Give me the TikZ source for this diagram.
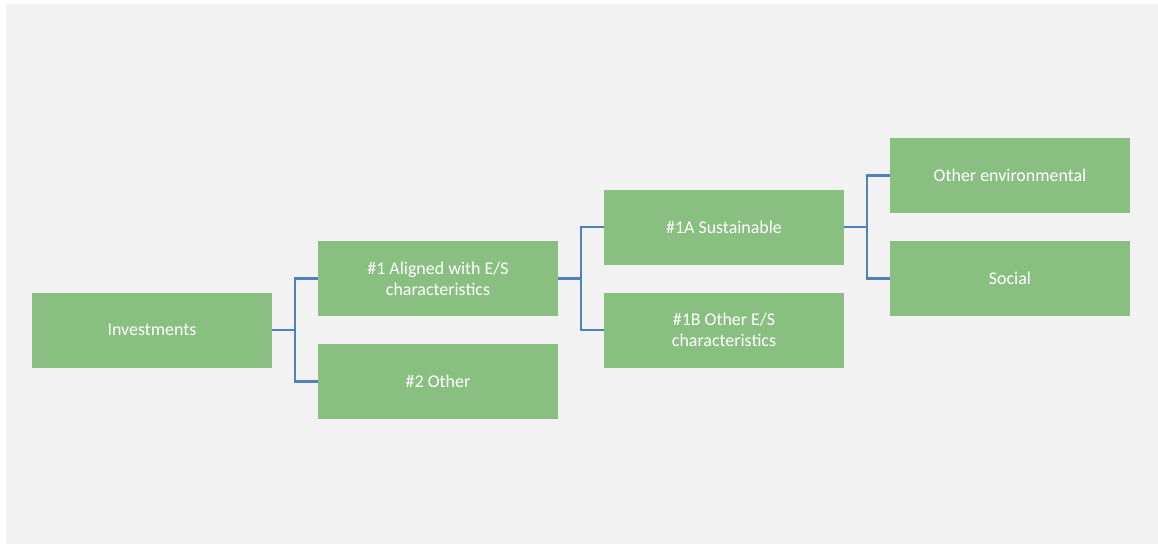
\documentclass[tikz,border=0pt]{standalone}
\usepackage{fontspec}
\setmainfont{Carlito}
\usepackage{tikz}
\usetikzlibrary{positioning}

\definecolor{boxgreen}{HTML}{89C081}
\definecolor{linkblue}{HTML}{4F81BD}
\definecolor{paper}{HTML}{F2F2F2}

\begin{document}
\begin{tikzpicture}[x=1cm,y=1cm,
	box/.style={rectangle, fill=boxgreen, text=white, minimum width=4.8cm, minimum height=1.5cm,
		align=center, inner sep=0pt, outer sep=0pt, font=\fontsize{10.2}{11.8}\selectfont},
	elbow/.style={draw=linkblue, line width=1.3pt, to path={-- ++(0.46,0) |- (\tikztotarget)}}]
	\useasboundingbox (0,0) rectangle (23.16,-10.88);
	\fill[paper] (0.12,-0.08) rectangle (23.16,-10.88);
	\node[box] (inv) at (3.04,-6.60) {Investments};
	\node[box] (align) [right=0.92cm of inv, yshift=1.03cm] {\#1 Aligned with E/S\\characteristics};
	\node[box] (other) [below=0.56cm of align] {\#2 Other};
	\node[box] (sust) [right=0.92cm of align, yshift=1.03cm] {\#1A Sustainable};
	\node[box] (otheres) [below=0.56cm of sust] {\#1B Other E/S\\characteristics};
	\node[box] (env) [right=0.92cm of sust, yshift=1.03cm] {Other environmental};
	\node[box] (soc) [below=0.56cm of env] {Social};
	\path	(inv.east) edge[elbow] (align.west)
		(inv.east) edge[elbow] (other.west)
		(align.east) edge[elbow] (sust.west)
		(align.east) edge[elbow] (otheres.west)
		(sust.east) edge[elbow] (env.west)
		(sust.east) edge[elbow] (soc.west);
\end{tikzpicture}
\end{document}
